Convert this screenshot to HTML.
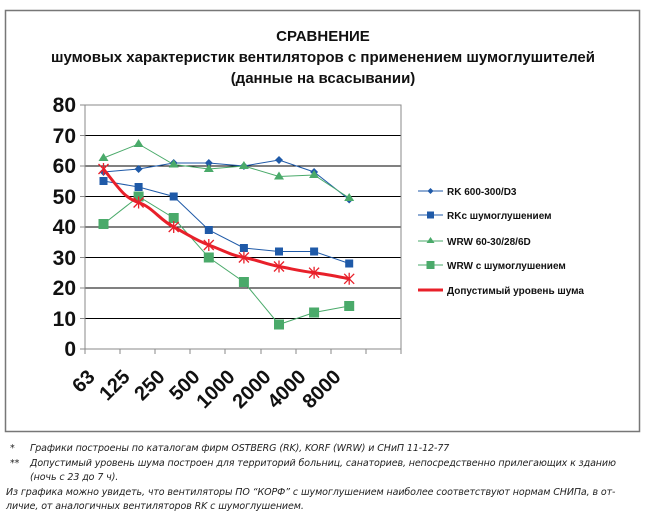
<!DOCTYPE html>
<html><head><meta charset="utf-8"><style>
body{margin:0;background:#fff;width:646px;height:516px;overflow:hidden;font-family:"Liberation Sans",sans-serif}
.n{position:absolute;font-family:"DejaVu Sans","Liberation Sans",sans-serif;font-style:italic;font-size:9.5px;color:#222;white-space:nowrap;letter-spacing:-0.1px}
</style></head><body>
<svg width="646" height="516" style="position:absolute;left:0;top:0" font-family="Liberation Sans, sans-serif">
<rect x="5.5" y="10.5" width="634" height="421" fill="#fff" stroke="#777" stroke-width="1.5"/>
<g font-weight="bold" text-anchor="middle" fill="#111">
<text x="323" y="41" font-size="15">СРАВНЕНИЕ</text>
<text x="323" y="62" font-size="15">шумовых характеристик вентиляторов с применением шумоглушителей</text>
<text x="323" y="83" font-size="15">(данные на всасывании)</text>
</g>
<g stroke="#000" stroke-width="1">
<line x1="85" y1="135.5" x2="401" y2="135.5"/><line x1="85" y1="166" x2="401" y2="166"/><line x1="85" y1="196.5" x2="401" y2="196.5"/><line x1="85" y1="227" x2="401" y2="227"/><line x1="85" y1="257.5" x2="401" y2="257.5"/><line x1="85" y1="288" x2="401" y2="288"/><line x1="85" y1="318.5" x2="401" y2="318.5"/>
</g>
<g stroke="#888" fill="none">
<rect x="85" y="105" width="316" height="244"/>
<path d="M80 105H85M80 135.5H85M80 166H85M80 196.5H85M80 227H85M80 257.5H85M80 288H85M80 318.5H85M80 349H85"/>
<path d="M85 349v5M120 349v5M155 349v5M190 349v5M225 349v5M261 349v5M296 349v5M331 349v5M366 349v5M401 349v5"/>
</g>
<g font-size="21" font-weight="bold" text-anchor="end" fill="#111">
<text x="76" y="112">80</text><text x="76" y="143">70</text><text x="76" y="173">60</text><text x="76" y="204">50</text><text x="76" y="234">40</text><text x="76" y="265">30</text><text x="76" y="295">20</text><text x="76" y="326">10</text><text x="76" y="356">0</text>
</g>
<g font-size="20" font-weight="bold" fill="#111" text-anchor="end">
<text transform="translate(96,378) rotate(-45)">63</text>
<text transform="translate(131,378) rotate(-45)">125</text>
<text transform="translate(166,378) rotate(-45)">250</text>
<text transform="translate(201,378) rotate(-45)">500</text>
<text transform="translate(236,378) rotate(-45)">1000</text>
<text transform="translate(272,378) rotate(-45)">2000</text>
<text transform="translate(307,378) rotate(-45)">4000</text>
<text transform="translate(342,378) rotate(-45)">8000</text>
</g>
<polyline fill="none" stroke="#1f5aa8" stroke-width="1" points="103.5,172 138.6,169 173.7,163 208.8,163 243.9,166 279,160 314.1,172 349.2,199.5"/>
<g fill="#1f5aa8">
<path d="M103.5 168l4 4-4 4-4-4z"/><path d="M138.6 165l4 4-4 4-4-4z"/><path d="M173.7 159l4 4-4 4-4-4z"/><path d="M208.8 159l4 4-4 4-4-4z"/><path d="M243.9 162l4 4-4 4-4-4z"/><path d="M279 156l4 4-4 4-4-4z"/><path d="M314.1 168l4 4-4 4-4-4z"/><path d="M349.2 195.5l4 4-4 4-4-4z"/>
</g>
<polyline fill="none" stroke="#1f5aa8" stroke-width="1" points="103.5,181 138.6,187 173.7,196.5 208.8,230 243.9,248 279,251.5 314.1,251.5 349.2,263.5"/>
<g fill="#1f5aa8">
<rect x="99.5" y="177" width="8" height="8"/><rect x="134.6" y="183" width="8" height="8"/><rect x="169.7" y="192.5" width="8" height="8"/><rect x="204.8" y="226" width="8" height="8"/><rect x="239.9" y="244" width="8" height="8"/><rect x="275" y="247.5" width="8" height="8"/><rect x="310.1" y="247.5" width="8" height="8"/><rect x="345.2" y="259.5" width="8" height="8"/>
</g>
<polyline fill="none" stroke="#4aaa6a" stroke-width="1" points="103.5,158 138.6,144 173.7,164.5 208.8,169 243.9,166 279,176.5 314.1,175 349.2,198"/>
<g fill="#4aaa6a">
<path d="M103.5 153l5 8h-10z"/><path d="M138.6 139l5 8h-10z"/><path d="M173.7 159.5l5 8h-10z"/><path d="M208.8 164l5 8h-10z"/><path d="M243.9 161l5 8h-10z"/><path d="M279 171.5l5 8h-10z"/><path d="M314.1 170l5 8h-10z"/><path d="M349.2 193l5 8h-10z"/>
</g>
<polyline fill="none" stroke="#4aaa6a" stroke-width="1" points="103.5,224 138.6,196.5 173.7,218 208.8,257.5 243.9,282 279,324.5 314.1,312.5 349.2,306"/>
<g fill="#4aaa6a">
<rect x="98.5" y="219" width="10" height="10"/><rect x="133.6" y="191.5" width="10" height="10"/><rect x="168.7" y="213" width="10" height="10"/><rect x="203.8" y="252.5" width="10" height="10"/><rect x="238.9" y="277" width="10" height="10"/><rect x="274" y="319.5" width="10" height="10"/><rect x="309.1" y="307.5" width="10" height="10"/><rect x="344.2" y="301" width="10" height="10"/>
</g>
<path fill="none" stroke="#e8202a" stroke-width="3" d="M103.5 169C120 190 125 198 138.6 202.5S160 220 173.7 227S195 240 208.8 245S230 255 243.9 257.5S265 264 279 266.5S300 271 314.1 272.7S340 277 349.2 278.8"/>
<g stroke="#e8202a" stroke-width="1.3">
<path d="M98.5 164l10 10M108.5 164l-10 10M103.5 163v12"/>
<path d="M133.6 197.5l10 10M143.6 197.5l-10 10M138.6 196.5v12"/>
<path d="M168.7 222l10 10M178.7 222l-10 10M173.7 221v12"/>
<path d="M203.8 240l10 10M213.8 240l-10 10M208.8 239v12"/>
<path d="M238.9 252.5l10 10M248.9 252.5l-10 10M243.9 251.5v12"/>
<path d="M274 261.5l10 10M284 261.5l-10 10M279 260.5v12"/>
<path d="M309.1 267.7l10 10M319.1 267.7l-10 10M314.1 266.7v12"/>
<path d="M344.2 273.8l10 10M354.2 273.8l-10 10M349.2 272.8v12"/>
</g>
<g font-size="10" font-weight="bold" fill="#111">
<line x1="418" y1="191" x2="443" y2="191" stroke="#1f5aa8"/><path d="M430.5 188l3 3-3 3-3-3z" fill="#1f5aa8"/><text x="447" y="195">RK 600-300/D3</text>
<line x1="418" y1="215" x2="443" y2="215" stroke="#1f5aa8"/><rect x="427" y="211.5" width="7" height="7" fill="#1f5aa8"/><text x="447" y="219">RKc шумоглушением</text>
<line x1="418" y1="241" x2="443" y2="241" stroke="#4aaa6a"/><path d="M430.5 237l4 6h-8z" fill="#4aaa6a"/><text x="447" y="245">WRW 60-30/28/6D</text>
<line x1="418" y1="265" x2="443" y2="265" stroke="#4aaa6a"/><rect x="426.5" y="261" width="8" height="8" fill="#4aaa6a"/><text x="447" y="269">WRW с шумоглушением</text>
<line x1="418" y1="290" x2="443" y2="290" stroke="#e8202a" stroke-width="3"/><text x="447" y="294">Допустимый уровень шума</text>
</g>
</svg>
<div class="n" style="left:10px;top:443px">*</div>
<div class="n" style="left:30px;top:443px">Графики построены по каталогам фирм OSTBERG (RK), KORF (WRW) и СНиП 11-12-77</div>
<div class="n" style="left:10px;top:458px">**</div>
<div class="n" style="left:30px;top:458px">Допустимый уровень шума построен для территорий больниц, санаториев, непосредственно прилегающих к зданию</div>
<div class="n" style="left:30px;top:472px">(ночь с 23 до 7 ч).</div>
<div class="n" style="left:6px;top:487px">Из графика можно увидеть, что вентиляторы ПО “КОРФ” с шумоглушением наиболее соответствуют нормам СНИПа, в от-</div>
<div class="n" style="left:6px;top:501px">личие, от аналогичных вентиляторов RK с шумоглушением.</div>
</body></html>
